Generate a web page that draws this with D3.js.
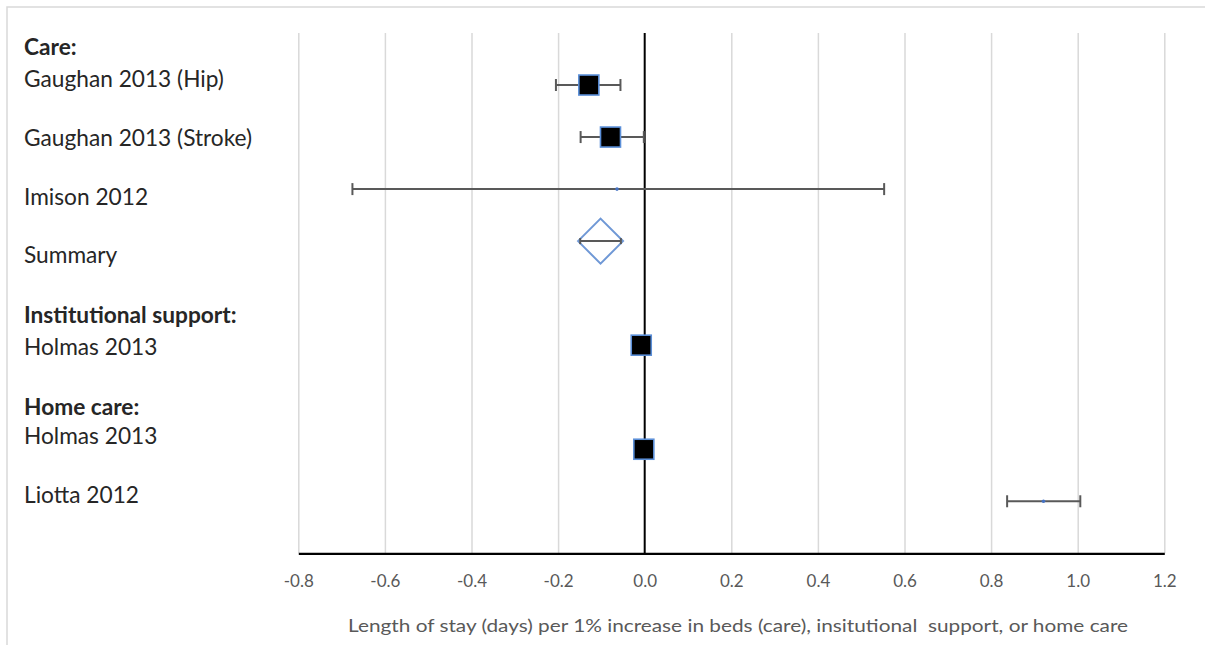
<!DOCTYPE html>
<html>
<head>
<meta charset="utf-8">
<script src="https://cdn.jsdelivr.net/npm/d3@7"></script>
<style>
  html, body { margin: 0; padding: 0; background: #ffffff; }
  svg { display: block; font-family: Lato, "Open Sans", sans-serif; }
</style>
</head>
<body>
<svg id="chart" width="1205" height="645"></svg>
<script>
// ---------- DATA ----------
// Studies drawn with square markers (row = vertical position in data units)
const squareStudies = ["Gaughan 2013 (Hip)", "Gaughan 2013 (Stroke)", "Holmas 2013 (Institutional)", "Holmas 2013 (Home care)"];
const squareRows = [9, 8, 4, 2];
const squareEst = [-0.129, -0.079, -0.008, -0.002];
const squareLo = [-0.205, -0.148, null, null];
const squareHi = [-0.056, -0.002, null, null];

// Studies with very small weight (tiny markers)
const dotStudies = ["Imison 2012", "Liotta 2012"];
const dotRows = [7, 1];
const dotEst = [-0.064, 0.921];
const dotLo = [-0.675, 0.837];
const dotHi = [0.553, 1.006];

// Summary estimate (care)
const summaryRow = 6;
const summaryEst = -0.102;
const summaryLo = -0.149;
const summaryHi = -0.055;

// Axis
const xTicks = [-0.8, -0.6, -0.4, -0.2, 0.0, 0.2, 0.4, 0.6, 0.8, 1.0, 1.2];
const xTickLabels = ["-0.8", "-0.6", "-0.4", "-0.2", "0.0", "0.2", "0.4", "0.6", "0.8", "1.0", "1.2"];
const xTitle = "Length of stay (days) per 1% increase in beds (care), insitutional\u00a0 support, or home care";

// Left-hand label block (lines ending with ':' are group headers)
const labelLines = ["Care:", "Gaughan 2013 (Hip)", "Gaughan 2013 (Stroke)", "Imison 2012", "Summary",
                    "Institutional support:", "Holmas 2013", "Home care:", "Holmas 2013", "Liotta 2012"];

// ---------- LAYOUT ----------
const W = 1205, H = 645;
const plot = { left: 298.3, right: 1164.3, top: 33, bottom: 553.3 };
const labelX = 24;
const labelBaselines = [55, 87, 146, 205, 263, 323, 355, 415, 444, 503];

const svg = d3.select("#chart");

const x = d3.scaleLinear().domain([-0.8, 1.2]).range([plot.left, plot.right]);
const y = d3.scaleLinear().domain([0, 10]).range([plot.bottom, plot.top]);

// outer chart border
svg.append("rect")
  .attr("x", 7).attr("y", 7).attr("width", W + 20).attr("height", H + 20)
  .attr("fill", "#ffffff").attr("stroke", "#d9d9d9").attr("stroke-width", 1.5);

// gridlines
const grid = svg.append("g")
  .attr("transform", `translate(0,${plot.bottom})`)
  .call(d3.axisBottom(x).tickValues(xTicks.filter(d => d !== 0))
        .tickSize(-(plot.bottom - plot.top)).tickFormat(""));
grid.select(".domain").remove();
grid.selectAll(".tick line").attr("stroke", "#d9d9d9").attr("stroke-width", 1.5);

// zero (vertical axis) line
svg.append("line")
  .attr("x1", x(0)).attr("x2", x(0))
  .attr("y1", plot.top).attr("y2", plot.bottom)
  .attr("stroke", "#000000").attr("stroke-width", 2);

// bottom axis
const axis = svg.append("g")
  .attr("transform", `translate(0,${plot.bottom})`)
  .call(d3.axisBottom(x).tickValues(xTicks).tickSize(0).tickPadding(22)
        .tickFormat((d, i) => xTickLabels[i]));
axis.select(".domain").attr("stroke", "#000000").attr("stroke-width", 2.2);
axis.selectAll(".tick text")
  .attr("fill", "#595959").style("font-size", "17px").style("font-family", "Lato, sans-serif");

// axis title
svg.append("text")
  .attr("x", 738).attr("y", 632)
  .attr("text-anchor", "middle").attr("fill", "#595959")
  .style("font-size", "17.5px")
  .attr("textLength", 780).attr("lengthAdjust", "spacingAndGlyphs")
  .text(xTitle);

// error bar helper
const capH = 6;
function errorBar(g, lo, hi, row, cap) {
  if (lo == null || hi == null) return;
  const yy = y(row);
  g.append("line").attr("x1", x(lo)).attr("x2", x(hi)).attr("y1", yy).attr("y2", yy)
    .attr("stroke", "#595959").attr("stroke-width", 2);
  if (cap) {
    [lo, hi].forEach(v => {
      g.append("line").attr("x1", x(v)).attr("x2", x(v))
        .attr("y1", yy - cap).attr("y2", yy + cap)
        .attr("stroke", "#595959").attr("stroke-width", 2);
    });
  }
}

const marks = svg.append("g");

// small-weight studies
dotStudies.forEach((s, i) => errorBar(marks, dotLo[i], dotHi[i], dotRows[i], capH));
marks.selectAll("circle.dot").data(dotEst).join("circle")
  .attr("class", "dot")
  .attr("cx", d => x(d)).attr("cy", (d, i) => y(dotRows[i]))
  .attr("r", 1.8).attr("fill", "#4472c4");

// square studies
squareStudies.forEach((s, i) => errorBar(marks, squareLo[i], squareHi[i], squareRows[i], capH));
const sq = 20;
marks.selectAll("rect.sq").data(squareEst).join("rect")
  .attr("class", "sq")
  .attr("x", d => x(d) - sq / 2).attr("y", (d, i) => y(squareRows[i]) - sq / 2)
  .attr("width", sq).attr("height", sq)
  .attr("fill", "#000000").attr("stroke", "#5b8fd8").attr("stroke-width", 1.6);

// summary diamond
const dh = 22.5;
const sx = x(summaryEst), sy = y(summaryRow);
marks.append("path")
  .attr("d", `M${sx - dh},${sy}L${sx},${sy - dh}L${sx + dh},${sy}L${sx},${sy + dh}Z`)
  .attr("fill", "#ffffff").attr("stroke", "#6f98d6").attr("stroke-width", 2);
errorBar(marks, summaryLo, summaryHi, summaryRow, 3);

// left labels
svg.append("g").selectAll("text").data(labelLines).join("text")
  .attr("x", labelX).attr("y", (d, i) => labelBaselines[i])
  .attr("fill", "#262626")
  .style("font-size", "22.7px")
  .style("font-weight", d => d.endsWith(":") ? "700" : "400")
  .text(d => d);
</script>
</body>
</html>
